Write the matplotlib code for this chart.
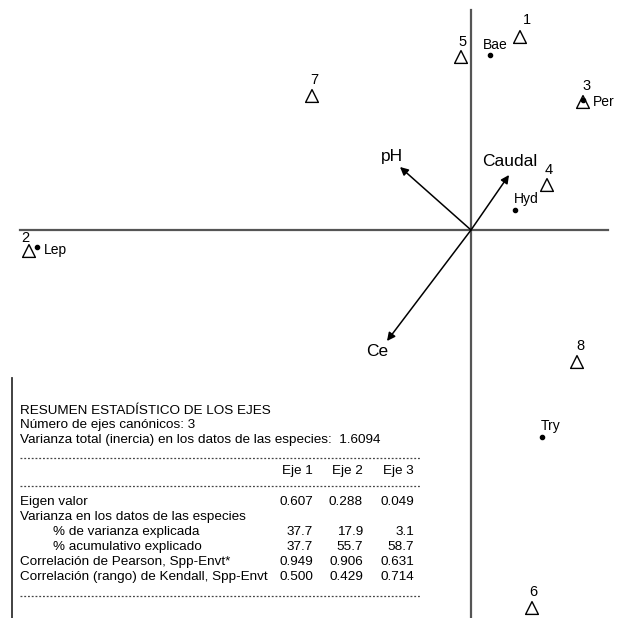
import matplotlib
matplotlib.use("Agg")
import matplotlib.pyplot as plt

plt.rcParams["font.family"] = ["Liberation Sans", "DejaVu Sans"]

# site scores (triangles)
sites = ["1", "2", "3", "4", "5", "6", "7", "8"]
site_x = [0.49, -4.42, 1.12, 0.76, -0.10, 0.61, -1.59, 1.06]
site_y = [1.93, -0.21, 1.28, 0.45, 1.73, -3.78, 1.34, -1.32]

# species scores (dots)
species = ["Bae", "Per", "Hyd", "Lep", "Try"]
spp_x = [0.19, 1.12, 0.44, -4.34, 0.71]
spp_y = [1.75, 1.30, 0.20, -0.17, -2.07]

# environmental vectors
env = ["pH", "Caudal", "Ce"]
env_x = [-0.71, 0.38, -0.84]
env_y = [0.63, 0.55, -1.11]

# summary table
ejes = ["Eje 1", "Eje 2", "Eje 3"]
row_names = ["Eigen valor", "Varianza en los datos de las especies",
             "% de varianza explicada", "% acumulativo explicado",
             "Correlación de Pearson, Spp-Envt*",
             "Correlación (rango) de Kendall, Spp-Envt"]
row_indent = [0, 0, 1, 1, 0, 0]
row_vals = [["0.607", "0.288", "0.049"], None,
            ["37.7", "17.9", "3.1"], ["37.7", "55.7", "58.7"],
            ["0.949", "0.906", "0.631"], ["0.500", "0.429", "0.714"]]

W, H = 626, 618
fig = plt.figure(figsize=(W / 100, H / 100), dpi=100)
ax = fig.add_axes([0, 0, 1, 1])
ax.set_xlim(-4.71, 1.55)
ax.set_ylim(-3.88, 2.30)
ax.axis("off")

# axes through origin
ax.plot([-4.51, 1.37], [0, 0], color="#555555", lw=1.6, zorder=1)
ax.plot([0, 0], [2.20, -3.90], color="#555555", lw=1.6, zorder=1)

site_off = {"1": (7, 17), "2": (-4, 13), "3": (4, 16), "4": (2, 15),
            "5": (2, 15), "6": (1, 16), "7": (2, 16), "8": (3, 16)}
ax.scatter(site_x, site_y, marker="^", s=85, facecolors="none",
           edgecolors="black", linewidths=1.0, zorder=3)
for s, x, y in zip(sites, site_x, site_y):
    ax.annotate(s, (x, y), xytext=site_off[s], textcoords="offset pixels",
                ha="center", va="center", fontsize=10.5)

spp_off = {"Bae": (-7, 10), "Per": (10, -2), "Hyd": (-1, 11),
           "Lep": (7, -3), "Try": (-1, 11)}
ax.scatter(spp_x, spp_y, s=9, color="black", zorder=4)
for s, x, y in zip(species, spp_x, spp_y):
    ax.annotate(s, (x, y), xytext=spp_off[s], textcoords="offset pixels",
                ha="left", va="center", fontsize=10)

env_off = {"pH": (-8, 10), "Caudal": (1, 13), "Ce": (-10, -11)}
for name, x, y in zip(env, env_x, env_y):
    ax.annotate("", xy=(x, y), xytext=(0, 0),
                arrowprops=dict(arrowstyle="-|>", color="black", lw=1.1,
                                mutation_scale=12, shrinkA=0, shrinkB=0))
    ax.annotate(name, (x, y), xytext=env_off[name], textcoords="offset pixels",
                ha="center", va="center", fontsize=12.5)

# summary box
def px(x, y):
    return x / W, 1 - y / H

fig.add_artist(plt.Line2D([12 / W, 12 / W], [1 - 378 / H, 0], color="#333333", lw=1.3))
fs = 9.7
fig.text(*px(20, 411), "RESUMEN ESTADÍSTICO DE LOS EJES", fontsize=fs, va="center")
fig.text(*px(20, 425), "Número de ejes canónicos: 3", fontsize=fs, va="center")
fig.text(*px(20, 440), "Varianza total (inercia) en los datos de las especies:  1.6094",
         fontsize=fs, va="center")
for yy in [458, 486, 596]:
    fig.add_artist(plt.Line2D([20 / W, 420 / W], [1 - yy / H] * 2, color="#444444",
                              lw=0.9, ls=(0, (1.5, 1.5))))
col_r = [313, 363, 414]
for e, xr in zip(ejes, col_r):
    fig.text(*px(xr, 471), e, fontsize=fs, va="center", ha="right")
for i, (nm, vals) in enumerate(zip(row_names, row_vals)):
    yy = 502 + i * 15
    fig.text(*px(20 + 33 * row_indent[i], yy), nm, fontsize=fs, va="center")
    if vals:
        for v, xr in zip(vals, col_r):
            fig.text(*px(xr, yy), v, fontsize=fs, va="center", ha="right")

fig.savefig("out.png", dpi=100)
